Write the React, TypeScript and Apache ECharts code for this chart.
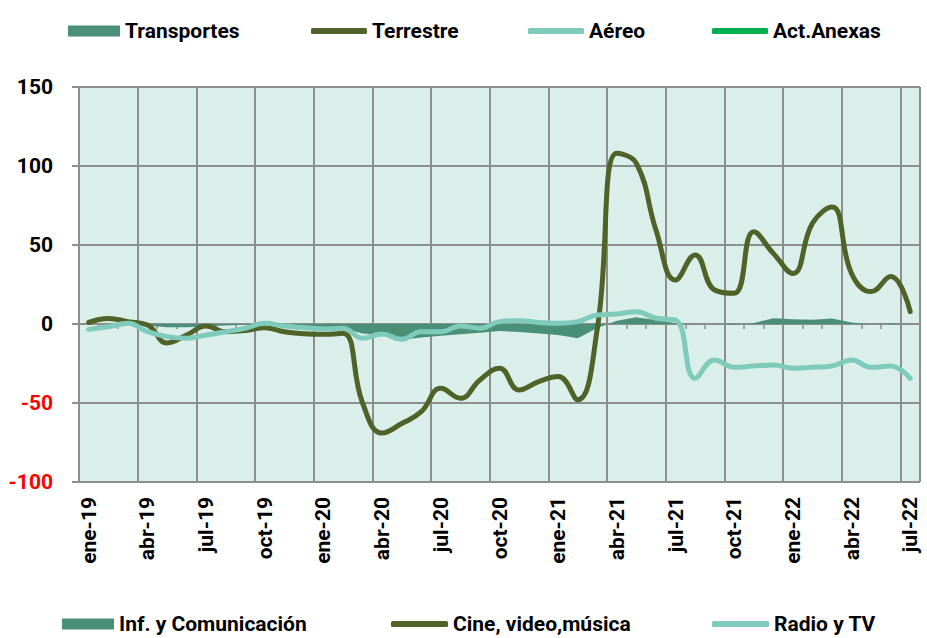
import React, { useEffect, useRef } from "react";
import * as echarts from "echarts";

const categories = [
  "ene-19", "feb-19", "mar-19", "abr-19", "may-19", "jun-19", "jul-19", "ago-19", "sep-19", "oct-19", "nov-19", "dic-19",
  "ene-20", "feb-20", "mar-20", "abr-20", "may-20", "jun-20", "jul-20", "ago-20", "sep-20", "oct-20", "nov-20", "dic-20",
  "ene-21", "feb-21", "mar-21", "abr-21", "may-21", "jun-21", "jul-21", "ago-21", "sep-21", "oct-21", "nov-21", "dic-21",
  "ene-22", "feb-22", "mar-22", "abr-22", "may-22", "jun-22", "jul-22",
];

const infComunicacion = [
  0, 0, 0, -1, -2, -2, -1.5, -1, -0.5, 0, -0.5, -1, -2, -2.7,
  -6, -7, -10, -8.5, -7.5, -6.5, -5.5, -4.5, -5, -6, -7, -9,
  -2.5, 2, 4.2, 2.5, 0.5, 0, 0, -0.5, 0.6, 3.6, 3, 2.7, 3.5, 1, 0, 0.5, 0,
];

const cineVideoMusica = [
  1, 3.5, 1.5, -0.6, -12, -7, -1.3, -4.9, -4.2, -2.3, -4.9, -6.1, -6.5, -5.9,
  -50, -69, -63, -55.5, -40.7, -47, -35.4, -28, -41.8, -36.5, -33.3, -48,
  -3, 108, 101.7, 59.5, 27.8, 43.7, 21.5, 19.4, 58.4, 44.7, 32, 63.7, 74, 32, 20.5, 30, 7.8,
];

const radioTV = [
  -3.4, -1.7, 0.4, -4.9, -8, -9, -7, -4.9, -2.7, 0.4, -1.3, -2.3, -3.2, -2.7,
  -9, -6.3, -9.7, -4.9, -4.9, -1.3, -2.7, 1.5, 2.1, 1, 0.4, 1.5,
  5.7, 6.3, 7.8, 3.6, 2.5, -34.4, -22.8, -27.4, -26.6, -26, -28, -27.4, -26.6, -22.8, -27.4, -26.6, -34.4,
];

// Series of the upper legend: no values are drawn for them in the picture
const transportes: number[] = [];
const terrestre: number[] = [];
const aereo: number[] = [];
const actAnexas: number[] = [];

const yMin = -100;
const yMax = 150;
const yStep = 50;

const C_AREA = "#4A8F78";
const C_OLIVE = "#4F6228";
const C_TEAL = "#7FCBBB";
const C_GREEN = "#00B050";
const GRID_C = "#8E8E8E";

export default function App() {
  const ref = useRef<HTMLDivElement>(null);

  useEffect(() => {
    if (!ref.current) return;
    const chart = echarts.init(ref.current, null, { renderer: "svg" });

    const legendText = {
      fontFamily: "Roboto",
      fontWeight: "bold",
      fontSize: 21,
      color: "#000",
      lineHeight: 22,
    };
    const mkLegend = (name: string, left: number, top: number, w: number, h: number, icon: string) => ({
      show: true,
      data: [name],
      left,
      top,
      padding: 0,
      itemWidth: w,
      itemHeight: h,
      icon,
      selectedMode: false,
      textStyle: legendText,
    });

    const option: any = {
      animation: false,
      backgroundColor: "#ffffff",
      legend: [
        mkLegend("Transportes", 68, 20, 52, 11, "rect"),
        mkLegend("Terrestre", 311, 20, 56, 6, "roundRect"),
        mkLegend("Aéreo", 528, 20, 56, 6, "roundRect"),
        mkLegend("Act.Anexas", 712, 20, 56, 6, "roundRect"),
        mkLegend("Inf. y Comunicación", 62, 613, 52, 11, "rect"),
        mkLegend("Cine, video,música", 391, 613, 57, 6, "roundRect"),
        mkLegend("Radio y TV", 712, 613, 57, 6, "roundRect"),
      ],
      grid: {
        left: 79,
        right: 7,
        top: 87,
        bottom: 156,
        show: true,
        backgroundColor: "#DAEEEA",
        borderWidth: 0,
        containLabel: false,
        outerBoundsMode: "none",
      },
      xAxis: [
        {
          type: "category",
          data: categories,
          boundaryGap: true,
          position: "bottom",
          axisLine: { show: false, onZero: false },
          axisTick: { show: false },
          axisLabel: {
            interval: 2,
            rotate: 90,
            margin: 15,
            fontFamily: "Roboto",
            fontWeight: "bold",
            fontSize: 21,
            color: "#000",
          },
          splitLine: { show: true, interval: 2, lineStyle: { color: GRID_C, width: 2 } },
        },
        {
          type: "category",
          data: categories,
          boundaryGap: true,
          position: "top",
          axisLine: { show: true, onZero: true, lineStyle: { color: GRID_C, width: 2 } },
          axisTick: { show: true, interval: 0, inside: true, length: 5, lineStyle: { color: GRID_C, width: 1.5 } },
          axisLabel: { show: false },
          splitLine: { show: false },
        },
      ],
      yAxis: {
        type: "value",
        min: yMin,
        max: yMax,
        interval: yStep,
        axisLine: { show: false },
        axisTick: { show: true, length: 7, lineStyle: { color: GRID_C, width: 2 } },
        axisLabel: {
          margin: 26,
          fontFamily: "Roboto",
          fontWeight: "bold",
          fontSize: 21,
          color: (v: any) => (Number(v) < 0 ? "#FF0000" : "#000000"),
        },
        splitLine: { show: true, lineStyle: { color: GRID_C, width: 2 } },
      },
      series: [
        {
          name: "Transportes",
          type: "line",
          data: transportes,
          color: C_AREA,
          areaStyle: { color: C_AREA, opacity: 1 },
          symbol: "none",
        },
        { name: "Terrestre", type: "line", data: terrestre, color: C_OLIVE, symbol: "none" },
        { name: "Aéreo", type: "line", data: aereo, color: C_TEAL, symbol: "none" },
        { name: "Act.Anexas", type: "line", data: actAnexas, color: C_GREEN, symbol: "none" },
        {
          name: "Inf. y Comunicación",
          type: "line",
          data: infComunicacion,
          color: C_AREA,
          symbol: "none",
          lineStyle: { width: 0 },
          areaStyle: { color: C_AREA, opacity: 1 },
          z: 3,
        },
        {
          name: "Cine, video,música",
          type: "line",
          data: cineVideoMusica,
          color: C_OLIVE,
          smooth: 0.45,
          symbol: "none",
          lineStyle: { width: 5, color: C_OLIVE, cap: "round" },
          z: 4,
        },
        {
          name: "Radio y TV",
          type: "line",
          data: radioTV,
          color: C_TEAL,
          smooth: 0.45,
          symbol: "none",
          lineStyle: { width: 5, color: C_TEAL, cap: "round" },
          z: 5,
        },
      ],
    };

    chart.setOption(option);
    return () => chart.dispose();
  }, []);

  return (
    <div
      ref={ref}
      style={{ position: "fixed", left: 0, top: 0, width: 927, height: 638 }}
    />
  );
}
